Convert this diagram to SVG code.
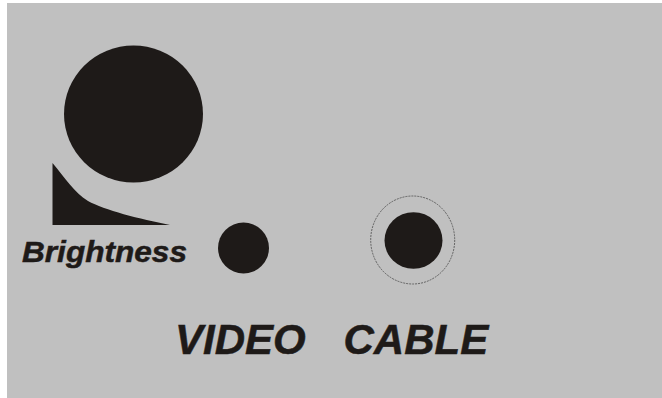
<svg xmlns="http://www.w3.org/2000/svg" width="662" height="398" viewBox="0 0 662 398">
<style>
.k{fill:#1e1a18}
text{font-family:"Liberation Sans",Arial,sans-serif;font-weight:bold;font-style:italic;fill:#1e1a18;stroke:#1e1a18;stroke-width:0.5}
</style>
<rect width="662" height="398" fill="#ffffff"/>
<rect x="7" y="3" width="655" height="395" fill="#c0c0c0"/>
<g id="brightness-knob">
<ellipse class="k" cx="133.5" cy="114" rx="69.5" ry="68.5"/>
<path class="k" d="M52.5 163 C65 178 74 192 88 201 C104 210 140 219 170 225 L52.5 225 Z"/>
<text x="22" y="262" font-size="29" textLength="165" lengthAdjust="spacingAndGlyphs">Brightness</text>
</g>
<g id="brightness-hole"><ellipse class="k" cx="243.5" cy="248" rx="25.5" ry="25.5"/></g>
<g id="cable-jack">
<ellipse cx="412.7" cy="240" rx="42" ry="44" fill="none" stroke="#4a4a4a" stroke-width="0.8" stroke-dasharray="2 1"/>
<ellipse class="k" cx="413.5" cy="240.5" rx="29" ry="28.3"/>
</g>
<g id="video-label"><text x="175" y="353.500" font-size="42">VIDEO</text></g>
<g id="cable-label"><text x="343.500" y="353.500" font-size="42">CABLE</text></g>
</svg>
